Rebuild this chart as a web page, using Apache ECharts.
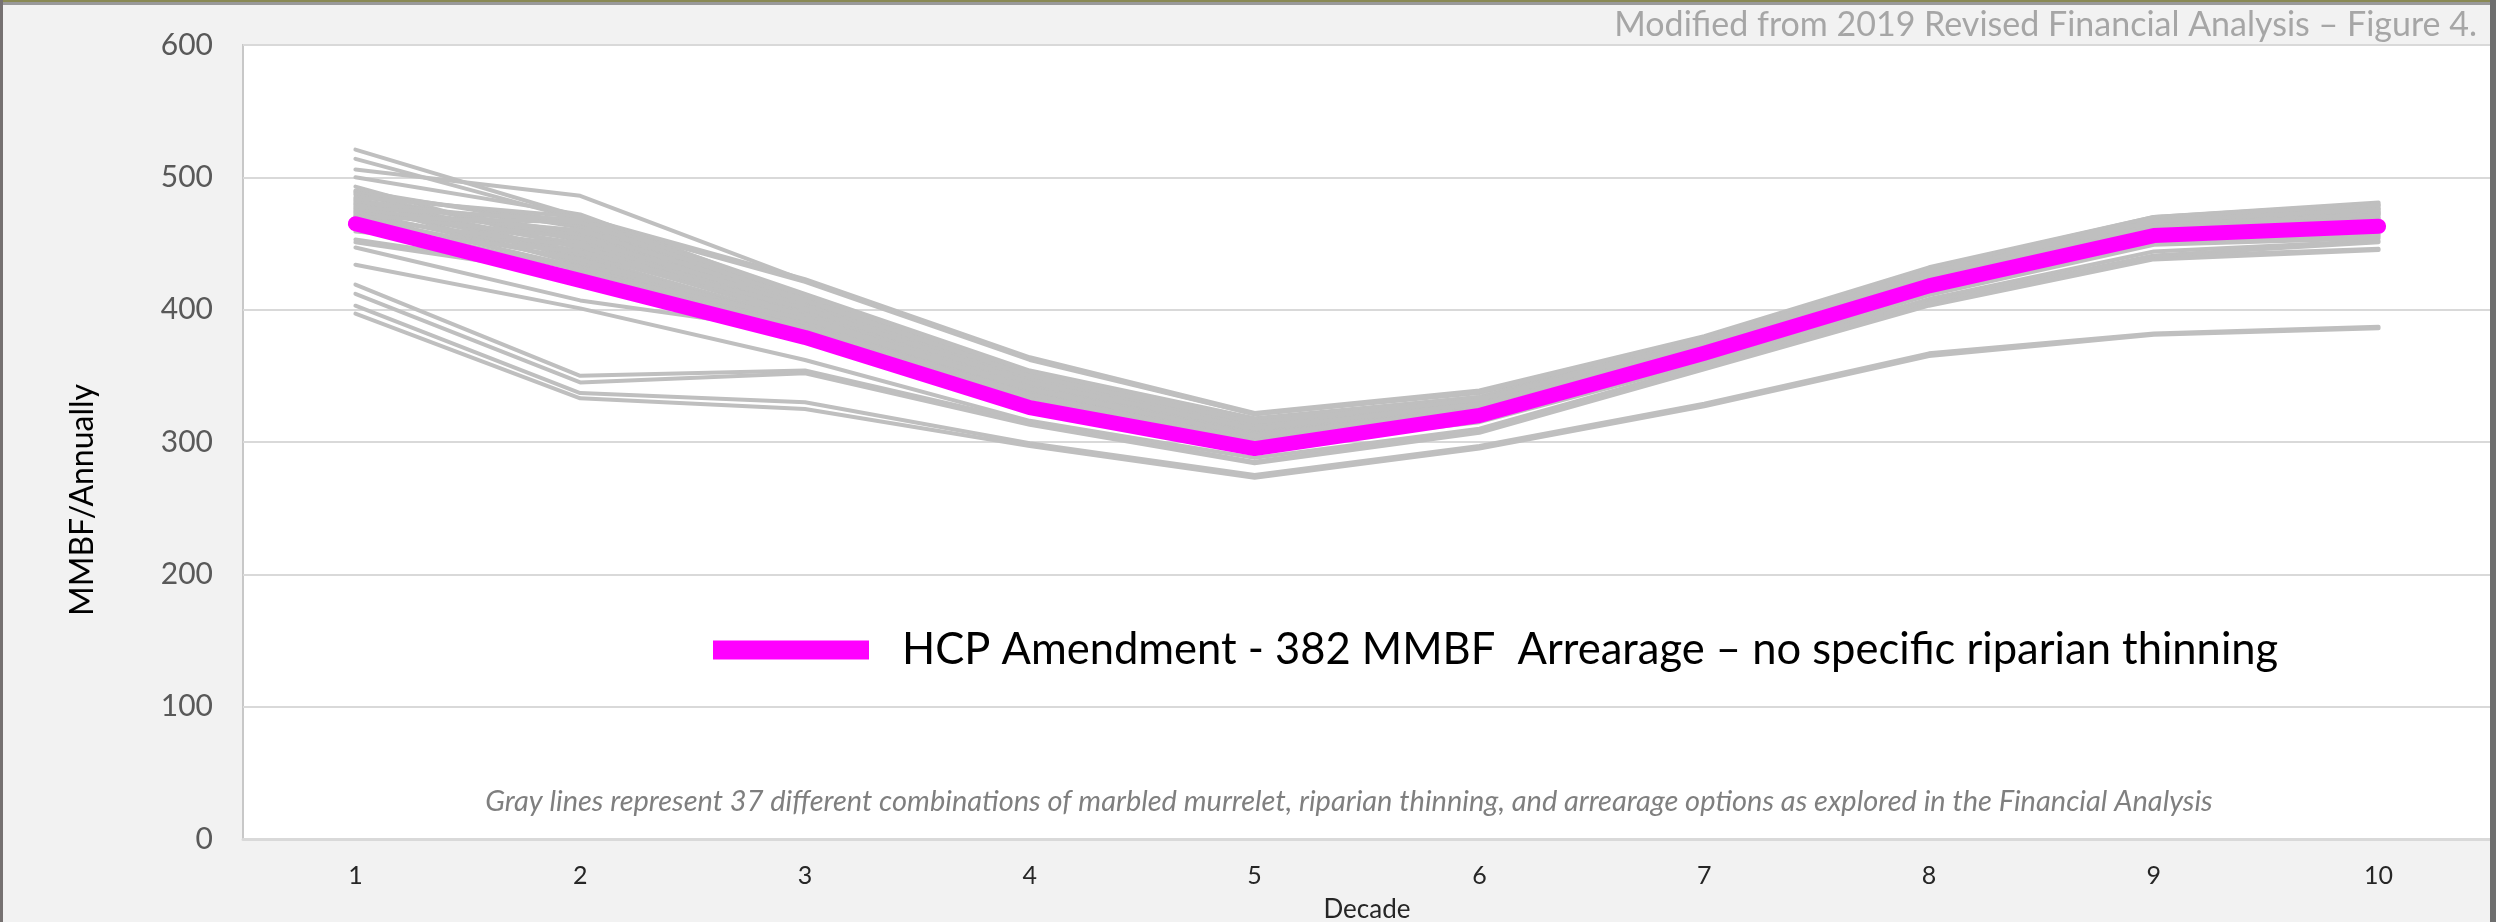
<!DOCTYPE html>
<html>
<head>
<meta charset="utf-8">
<script src="https://cdn.jsdelivr.net/npm/echarts@6/dist/echarts.min.js"></script>
<style>
html, body { margin: 0; padding: 0; background: #f2f2f2; }
#chart { width: 2496px; height: 922px; }
</style>
</head>
<body>
<div id="chart"></div>
<script>
// x轴 decade
var decades = ['1', '2', '3', '4', '5', '6', '7', '8', '9', '10'];
var yTicks = [0, 100, 200, 300, 400, 500, 600];

// HCP Amendment (magenta)
var hcpAmendment = [465, 422, 379, 326, 295, 320, 367, 418, 456, 463];

// 37 gray combinations
var c01 = [521, 470, 423, 364, 322, 339, 380, 432, 470, 481];
var c02 = [514, 468, 421, 362, 321, 337, 378, 430, 469, 479];
var c03 = [506, 486, 422, 363, 321, 338, 379, 431, 470, 480];
var c04 = [500, 472, 410, 353, 317, 334, 377, 429, 468, 477];
var c05 = [493, 446, 398, 345, 310, 328, 372, 424, 463, 470];
var c06 = [490, 462, 406, 350, 314, 332, 375, 427, 466, 474];
var c07 = [489, 440, 392, 340, 305, 325, 368, 420, 458, 465];
var c08 = [488, 466, 408, 352, 316, 333, 376, 428, 467, 476];
var c09 = [487, 452, 400, 346, 311, 329, 373, 425, 464, 472];
var c10 = [485, 470, 412, 354, 318, 334, 377, 429, 468, 478];
var c11 = [484, 438, 390, 338, 303, 323, 366, 418, 456, 462];
var c12 = [483, 458, 404, 348, 313, 331, 374, 426, 465, 473];
var c13 = [482, 448, 396, 343, 308, 327, 371, 423, 462, 469];
var c14 = [481, 464, 409, 351, 315, 332, 376, 428, 467, 475];
var c15 = [480, 434, 388, 337, 302, 322, 365, 416, 455, 460];
var c16 = [479, 456, 402, 347, 312, 330, 374, 426, 465, 473];
var c17 = [478, 444, 394, 342, 307, 326, 370, 422, 461, 468];
var c18 = [477, 468, 411, 353, 317, 333, 378, 430, 469, 479];
var c19 = [476, 450, 399, 344, 309, 328, 372, 424, 463, 471];
var c20 = [475, 460, 405, 349, 313, 331, 375, 427, 466, 474];
var c21 = [474, 436, 386, 335, 300, 321, 364, 414, 452, 457];
var c22 = [473, 454, 403, 347, 312, 330, 373, 425, 464, 472];
var c23 = [472, 442, 397, 341, 306, 325, 369, 421, 460, 466];
var c24 = [471, 432, 385, 334, 299, 320, 362, 412, 450, 455];
var c25 = [470, 466, 407, 350, 315, 332, 376, 428, 467, 476];
var c26 = [469, 448, 395, 339, 304, 324, 367, 419, 457, 463];
var c27 = [468, 438, 389, 336, 301, 321, 363, 413, 451, 456];
var c28 = [467, 430, 384, 333, 298, 319, 361, 411, 449, 454];
var c29 = [459, 444, 401, 345, 310, 329, 371, 423, 462, 469];
var c30 = [453, 428, 393, 340, 305, 325, 368, 420, 459, 466];
var c31 = [451, 426, 387, 336, 301, 322, 365, 417, 454, 458];
var c32 = [447, 407, 383, 330, 296, 315, 360, 408, 444, 452];
var c33 = [434, 401, 362, 316, 288, 310, 358, 406, 441, 451];
var c34 = [419, 350, 354, 315, 285, 309, 357, 405, 440, 446];
var c35 = [412, 345, 352, 313, 284, 307, 355, 403, 438, 445];
var c36 = [403, 337, 330, 299, 275, 297, 329, 367, 382, 387];
var c37 = [397, 333, 325, 297, 273, 295, 327, 365, 381, 386];

var grayLines = [c01, c02, c03, c04, c05, c06, c07, c08, c09, c10, c11, c12, c13,
    c14, c15, c16, c17, c18, c19, c20, c21, c22, c23, c24, c25, c26, c27, c28,
    c29, c30, c31, c32, c33, c34, c35, c36, c37];

var hcpName = 'HCP Amendment - 382 MMBF  Arrearage \u2013 no specific riparian thinning';
var font = 'Lato, "Open Sans", sans-serif';

var chart = echarts.init(document.getElementById('chart'));

var series = [];
grayLines.forEach(function (d, i) {
    series.push({
        name: 'Combination ' + (i + 1),
        type: 'line',
        data: d,
        symbol: 'none',
        silent: true,
        lineStyle: { color: '#bfbfbf', width: 4, cap: 'round', join: 'round' },
        z: 2
    });
});
// 粉色主线
series.push({
    name: hcpName,
    type: 'line',
    data: hcpAmendment,
    symbol: 'none',
    color: '#ff00ff',
    lineStyle: { color: '#ff00ff', width: 15, cap: 'round', join: 'round' },
    z: 5
});

var option = {
    backgroundColor: '#f2f2f2',
    animation: false,
    textStyle: { fontFamily: font },
    title: {
        text: 'Modified from 2019 Revised Financial Analysis \u2013 Figure 4.',
        right: 14,
        top: 3,
        textStyle: { color: '#a6a6a6', fontSize: 34, fontWeight: 'normal', fontFamily: font }
    },
    grid: {
        left: 243, right: 5, top: 45, bottom: 83,
        outerBoundsMode: 'none',
        containLabel: false,
        show: true,
        backgroundColor: '#ffffff',
        borderColor: '#c8c8c8',
        borderWidth: 2
    },
    legend: {
        data: [hcpName],
        left: 708,
        top: 623,
        icon: 'rect',
        itemWidth: 156,
        itemHeight: 19,
        textStyle: { fontSize: 43.5, color: '#000', padding: [0, 0, 0, 28], fontFamily: font },
        selectedMode: false
    },
    xAxis: {
        type: 'category',
        data: decades,
        boundaryGap: true,
        name: 'Decade',
        nameLocation: 'middle',
        nameGap: 58,
        nameTextStyle: { fontSize: 26, color: '#262626' },
        axisTick: { show: false },
        axisLine: { lineStyle: { color: '#d9d9d9', width: 3 } },
        axisLabel: { fontSize: 25, color: '#262626', margin: 24 }
    },
    yAxis: {
        type: 'value',
        min: yTicks[0],
        max: yTicks[yTicks.length - 1],
        interval: 100,
        axisLine: { show: false },
        axisTick: { show: false },
        axisLabel: { fontSize: 30, color: '#595959', margin: 30 },
        splitLine: { lineStyle: { color: '#d9d9d9', width: 2 } }
    },
    graphic: [
        // 外框
        { type: 'rect', shape: { x: 0, y: 0, width: 2496, height: 2 }, style: { fill: '#8a8a55' }, z: 100 },
        { type: 'rect', shape: { x: 0, y: 2, width: 2496, height: 3 }, style: { fill: '#9a9a9a' }, z: 100 },
        { type: 'rect', shape: { x: 0, y: 0, width: 3, height: 922 }, style: { fill: '#767171' }, z: 100 },
        { type: 'rect', shape: { x: 2490, y: 0, width: 6, height: 922 }, style: { fill: '#6f6f6f' }, z: 100 },
        {
            type: 'text', x: 83, y: 500, rotation: Math.PI / 2,
            style: { text: 'MMBF/Annually', fontSize: 32, fill: '#000', fontFamily: font, textAlign: 'center', textVerticalAlign: 'middle' }
        },
        {
            type: 'text', x: 1349, y: 802,
            style: {
                text: 'Gray lines represent 37 different combinations of marbled murrelet, riparian thinning, and arrearage options as explored in the Financial Analysis',
                fontSize: 29, fontStyle: 'italic', fill: '#7f7f7f', fontFamily: font,
                textAlign: 'center', textVerticalAlign: 'middle'
            },
            z: 10
        }
    ],
    series: series
};

chart.setOption(option);
window.addEventListener('resize', chart.resize);
</script>
</body>
</html>
